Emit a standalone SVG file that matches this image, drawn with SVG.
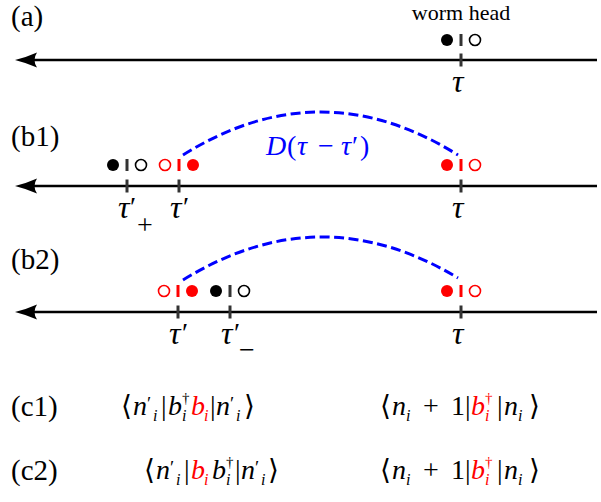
<svg xmlns="http://www.w3.org/2000/svg" width="601" height="502" viewBox="0 0 601 502">
<style>
text{font-family:"Liberation Serif","Times New Roman","DejaVu Serif",serif}
.lab{font-size:29px;fill:#000}
.m{font-size:28px;fill:#000}
.it{font-style:italic}
.sub{font-size:16px;font-style:italic}
.sup{font-size:15px}
.pr{font-size:19px}
.red{fill:#ff0000}
.axis{stroke:#000;stroke-width:2.5;fill:none}
.tick{stroke:#333;stroke-width:3}
.bar{stroke:#333;stroke-width:3}
.rbar{stroke:#ff0000;stroke-width:3}
.fb{fill:#000}
.ob{fill:#fff;stroke:#000;stroke-width:1.6}
.fr{fill:#ff0000}
.or{fill:#fff;stroke:#ff0000;stroke-width:1.6}
.arc{fill:none;stroke:#0000ff;stroke-width:3;stroke-dasharray:10 4.5}
.tau{font-size:32px;font-style:italic;fill:#000}
.tp{font-size:28px;fill:#000}
</style>
<defs>
<marker id="ah" markerUnits="userSpaceOnUse" viewBox="-16 -8 24 16" markerWidth="24" markerHeight="16" refX="0" refY="0" orient="auto">
<path d="M7,0 Q-5,-3 -15,-7.5 Q-10,0 -15,7.5 Q-5,3 7,0Z" fill="#000"/>
</marker>
</defs>

<g id="labels">
<text class="lab" x="11" y="26">(a)</text>
<text class="lab" x="11" y="146">(b1)</text>
<text class="lab" x="11" y="269">(b2)</text>
<text class="lab" x="11" y="416">(c1)</text>
<text class="lab" x="11" y="480">(c2)</text>
</g>

<g id="axes">
<line class="axis" x1="597" y1="60" x2="22" y2="60" marker-end="url(#ah)"/>
<line class="axis" x1="597" y1="186" x2="22" y2="186" marker-end="url(#ah)"/>
<line class="axis" x1="597" y1="312" x2="22" y2="312" marker-end="url(#ah)"/>
</g>

<g id="connectors">
<path class="arc" d="M183,155 Q320.5,69 458,155"/>
<path class="arc" d="M183,280 Q320.5,195 458,278"/>
</g>

<g id="a-head">
<text x="461" y="20" text-anchor="middle" font-size="22">worm head</text>
<circle class="fb" cx="447" cy="40" r="6"/>
<line class="bar" x1="461" y1="34" x2="461" y2="46"/>
<circle class="ob" cx="475" cy="40" r="5.5"/>
<line class="tick" x1="461" y1="53.5" x2="461" y2="66.5"/>
<text class="tau" x="452" y="92">τ</text>
</g>

<g id="b1-tauplus">
<circle class="fb" cx="113" cy="165" r="6"/>
<line class="bar" x1="127" y1="159" x2="127" y2="171"/>
<circle class="ob" cx="141" cy="165" r="5.5"/>
<line class="tick" x1="127" y1="179.5" x2="127" y2="192.5"/>
<text class="tau" x="118" y="218">τ</text>
<text class="tp" x="130" y="216">′</text>
<text class="m" x="137" y="234" font-size="22">+</text>
</g>
<g id="b1-tauprime">
<circle class="or" cx="165" cy="165" r="5.5"/>
<line class="rbar" x1="179" y1="159" x2="179" y2="171"/>
<circle class="fr" cx="193" cy="165" r="6"/>
<line class="tick" x1="179" y1="179.5" x2="179" y2="192.5"/>
<text class="tau" x="170" y="218">τ</text>
<text class="tp" x="183" y="216">′</text>
</g>
<g id="b1-tau">
<circle class="fr" cx="447" cy="165" r="6"/>
<line class="rbar" x1="461" y1="159" x2="461" y2="171"/>
<circle class="or" cx="475" cy="165" r="5.5"/>
<line class="tick" x1="461" y1="179.5" x2="461" y2="192.5"/>
<text class="tau" x="452" y="218">τ</text>
</g>
<g id="b1-D">
<text font-size="28" fill="#0000ff"><tspan font-style="italic" x="266" y="155">D</tspan><tspan x="287" y="155">(</tspan><tspan font-style="italic" x="297" y="155">τ</tspan><tspan x="318" y="155">−</tspan><tspan font-style="italic" x="341" y="155">τ</tspan><tspan x="352" y="155">′</tspan><tspan x="360" y="155">)</tspan></text>
</g>

<g id="b2-tauprime">
<circle class="or" cx="164" cy="291" r="5.5"/>
<line class="rbar" x1="178" y1="285" x2="178" y2="297"/>
<circle class="fr" cx="192" cy="291" r="6"/>
<line class="tick" x1="178" y1="305.5" x2="178" y2="318.5"/>
<text class="tau" x="169" y="344">τ</text>
<text class="tp" x="182" y="342">′</text>
</g>
<g id="b2-tauminus">
<circle class="fb" cx="216" cy="291" r="6"/>
<line class="bar" x1="230" y1="285" x2="230" y2="297"/>
<circle class="ob" cx="244" cy="291" r="5.5"/>
<line class="tick" x1="230" y1="305.5" x2="230" y2="318.5"/>
<text class="tau" x="221" y="344">τ</text>
<text class="tp" x="234" y="342">′</text>
<text class="m" x="239" y="359" font-size="22">−</text>
</g>
<g id="b2-tau">
<circle class="fr" cx="447" cy="291" r="6"/>
<line class="rbar" x1="461" y1="285" x2="461" y2="297"/>
<circle class="or" cx="475" cy="291" r="5.5"/>
<line class="tick" x1="461" y1="305.5" x2="461" y2="318.5"/>
<text class="tau" x="452" y="344">τ</text>
</g>

<g id="c1-left">
<text class="m">
<tspan x="121" y="415">⟨</tspan><tspan class="it" x="133" y="415">n</tspan><tspan class="pr" x="147" y="410">′</tspan><tspan class="sub" x="153" y="421">i</tspan><tspan x="161" y="415">|</tspan><tspan class="it" x="168" y="415">b</tspan><tspan class="sup" x="182" y="403">†</tspan><tspan class="sub" x="182" y="421">i</tspan><tspan class="it red" x="191" y="415">b</tspan><tspan class="sub red" x="204" y="421">i</tspan><tspan x="210" y="415">|</tspan><tspan class="it" x="216" y="415">n</tspan><tspan class="pr" x="230" y="410">′</tspan><tspan class="sub" x="236" y="421">i</tspan><tspan x="244" y="415">⟩</tspan>
</text>
</g>
<g id="c1-right">
<text class="m">
<tspan x="380" y="415">⟨</tspan><tspan class="it" x="392" y="415">n</tspan><tspan class="sub" x="406" y="421">i</tspan><tspan x="423" y="415">+</tspan><tspan x="451" y="415">1</tspan><tspan x="465" y="415">|</tspan><tspan class="it red" x="471" y="415">b</tspan><tspan class="sup red" x="485" y="403">†</tspan><tspan class="sub red" x="485" y="421">i</tspan><tspan x="497" y="415">|</tspan><tspan class="it" x="504" y="415">n</tspan><tspan class="sub" x="518" y="421">i</tspan><tspan x="529" y="415">⟩</tspan>
</text>
</g>

<g id="c2-left">
<text class="m">
<tspan x="144" y="479">⟨</tspan><tspan class="it" x="156" y="479">n</tspan><tspan class="pr" x="170" y="474">′</tspan><tspan class="sub" x="176" y="485">i</tspan><tspan x="184" y="479">|</tspan><tspan class="it red" x="191" y="479">b</tspan><tspan class="sub red" x="204" y="485">i</tspan><tspan class="it" x="212" y="479">b</tspan><tspan class="sup" x="226" y="467">†</tspan><tspan class="sub" x="226" y="485">i</tspan><tspan x="235" y="479">|</tspan><tspan class="it" x="241" y="479">n</tspan><tspan class="pr" x="255" y="474">′</tspan><tspan class="sub" x="261" y="485">i</tspan><tspan x="268" y="479">⟩</tspan>
</text>
</g>
<g id="c2-right">
<text class="m">
<tspan x="380" y="479">⟨</tspan><tspan class="it" x="392" y="479">n</tspan><tspan class="sub" x="406" y="485">i</tspan><tspan x="423" y="479">+</tspan><tspan x="451" y="479">1</tspan><tspan x="465" y="479">|</tspan><tspan class="it red" x="471" y="479">b</tspan><tspan class="sup red" x="485" y="467">†</tspan><tspan class="sub red" x="485" y="485">i</tspan><tspan x="497" y="479">|</tspan><tspan class="it" x="504" y="479">n</tspan><tspan class="sub" x="518" y="485">i</tspan><tspan x="529" y="479">⟩</tspan>
</text>
</g>
</svg>
